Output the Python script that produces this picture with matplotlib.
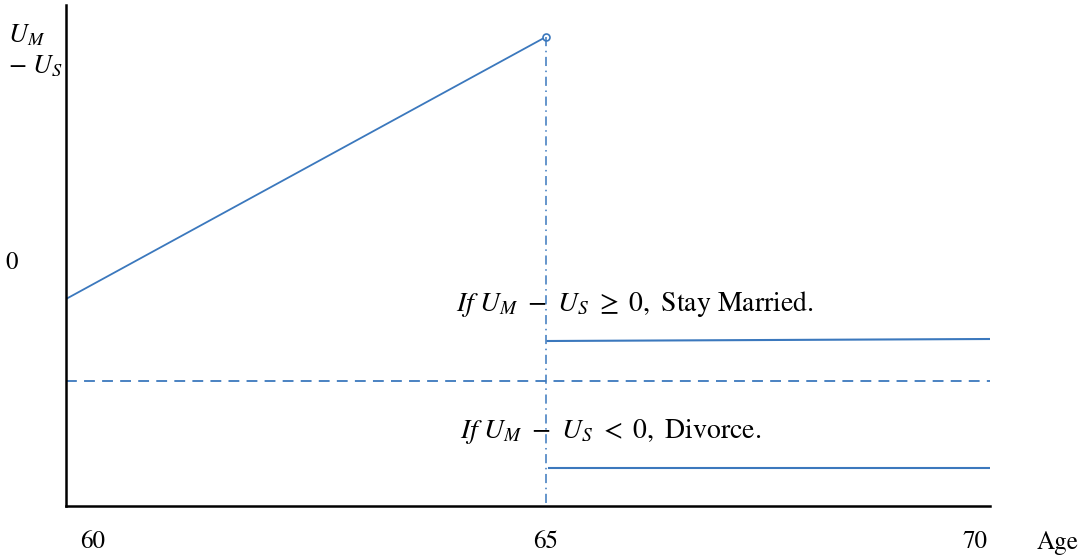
import matplotlib.pyplot as plt
from matplotlib.transforms import ScaledTranslation, blended_transform_factory

plt.rcParams["font.family"] = ["STIXGeneral", "DejaVu Serif"]
plt.rcParams["mathtext.fontset"] = "stix"

# ── data ──────────────────────────────────────────
rise_age = [59.6, 65.0]
rise_gap = [-0.36, 2.26]          # U_M - U_S before 65
after_age = [65.0, 70.0]
stay_gap = [-0.78, -0.76]         # stays above threshold
divorce_gap = [-2.05, -2.05]      # falls below threshold
threshold = -1.18                 # dashed reference level
xticks = [60, 65, 70]
blue = "#3b78bd"

fig = plt.figure(figsize=(10.89, 5.59), dpi=100)
ax = fig.add_axes([66 / 1089, 53 / 559, 924 / 1089, 501 / 559])

ax.plot(rise_age, rise_gap, color=blue, lw=1.3)
ax.plot(rise_age[-1], rise_gap[-1], "o", mfc="white", mec=blue, ms=5, mew=1.2)
ax.plot([after_age[0] + 0.02, after_age[1]], stay_gap, color=blue, lw=1.5)
ax.plot([after_age[0] + 0.04, after_age[1]], divorce_gap, color=blue, lw=1.5)
ax.axhline(threshold, color=blue, lw=1.3, ls=(0, (6, 4)))
ax.plot([65.0, 65.0], [rise_gap[-1], -2.43], color=blue, lw=1.1, ls=(0, (6, 3, 1, 3)))

ax.text(59.6 + (456 - 66) / 924 * 10.4, -0.56,
        r"$If\ U_M\ -\ U_S\ \geq\ 0,$ Stay Married.", fontsize=20, va="bottom")
ax.text(59.6 + (460 - 66) / 924 * 10.4, -1.83,
        r"$If\ U_M\ -\ U_S\ <\ 0,$ Divorce.", fontsize=20, va="bottom")

ax.set_xlim(59.6, 70)
ax.set_ylim(-2.43, 2.58)
ax.spines["top"].set_visible(False)
ax.spines["right"].set_visible(False)
ax.spines["left"].set_linewidth(1.8)
ax.spines["bottom"].set_linewidth(1.8)

ax.set_xticks(xticks)
ax.set_xticklabels([str(v) for v in xticks], fontsize=18)
ax.set_yticks([])
ax.tick_params(axis="x", length=0, pad=17)
# the original labels sit a little inside the end ticks
shifts = [-9, 0, -15]
for lab, dx in zip(ax.get_xticklabels(), shifts):
    lab.set_transform(lab.get_transform() + ScaledTranslation(dx / 100, 0, fig.dpi_scale_trans))

trans = blended_transform_factory(fig.transFigure, ax.transData)
ax.text(12 / 1089, 0, "0", fontsize=18, ha="center", va="center", transform=trans)

fig.text(1058 / 1089, 1 - 543 / 559, "Age", fontsize=18, ha="center", va="center")
fig.text(8 / 1089, 1 - 36 / 559, r"$U_M$", fontsize=19, ha="left", va="center")
fig.text(8 / 1089, 1 - 67 / 559, r"$-\ U_S$", fontsize=19, ha="left", va="center")

plt.savefig("out.png", dpi=100)
